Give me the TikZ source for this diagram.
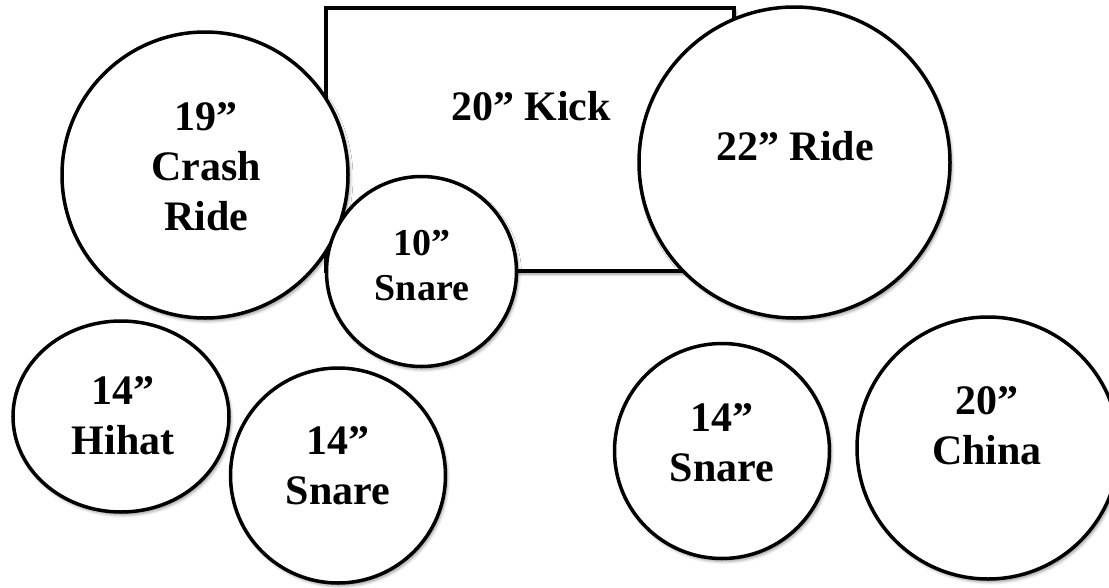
\documentclass[tikz,border=0pt]{standalone}
\usepackage{fontspec}
\setmainfont{Liberation Serif}
\usetikzlibrary{shapes.geometric,shadows.blur}
\begin{document}
\begin{tikzpicture}[x=1pt,y=-1pt,
  kit/.style={draw=black, line width=3.5pt, fill=white, inner sep=0pt,
    blur shadow={shadow xshift=2pt, shadow yshift=-3pt, shadow blur radius=3pt, shadow opacity=40}},
  lbl/.style={font=\fontsize{42}{50}\selectfont\bfseries, align=center, anchor=base, inner sep=0pt},
  lblsmall/.style={lbl, font=\fontsize{38}{45}\selectfont\bfseries}
]
\useasboundingbox (0,0) rectangle (1109,587);
\clip (0,0) rectangle (1109,587);
% shapes
\node[kit, rectangle, minimum width=408pt, minimum height=263pt] (kick) at (530,139.5) {};
\node[kit, circle, minimum size=286pt] (crash) at (205,175) {};
\node[kit, circle, minimum size=190pt] (snaretom) at (421.5,271.5) {};
\node[kit, circle, minimum size=311pt] (ride) at (794.5,162.5) {};
\node[kit, ellipse, minimum width=216pt, minimum height=191pt] (hihat) at (121,416.5) {};
\node[kit, circle, minimum size=215pt] (snareL) at (338,475.5) {};
\node[kit, circle, minimum size=215pt] (snareR) at (722,451) {};
\node[kit, circle, minimum size=262pt] (china) at (988,448) {};
% labels (anchor = baseline of the last line)
\node[lbl] (kicktxt) at (531,120) {20” Kick};
\node[lbl] (ridetxt) at (795,160) {22” Ride};
\node[lbl] (crashtxt) at (206,230) {19”\\Crash\\Ride};
\node[lblsmall] (snaretomtxt) at (422,300) {10”\\Snare};
\node[lbl] (hihattxt) at (123,454) {14”\\Hihat};
\node[lbl] (snareLtxt) at (338,504) {14”\\Snare};
\node[lbl] (snareRtxt) at (722,481) {14”\\Snare};
\node[lbl] (chinatxt) at (987,464) {20”\\China};
\end{tikzpicture}
\end{document}
